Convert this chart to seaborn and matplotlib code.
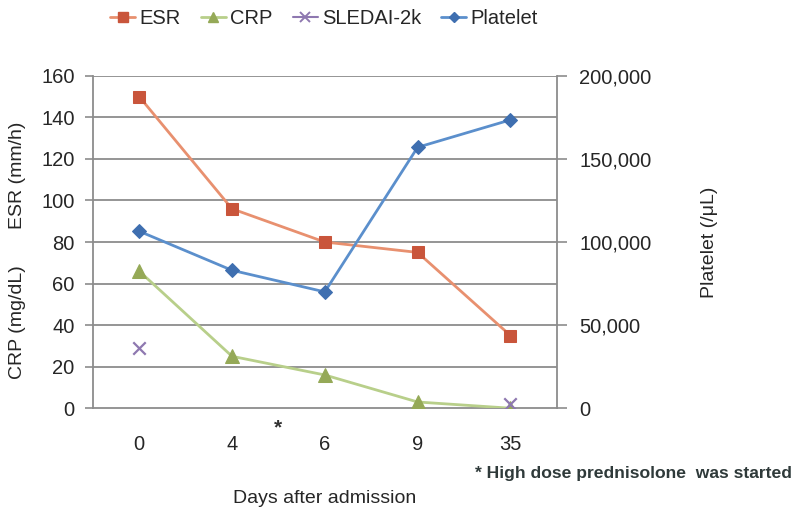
import numpy as np
import pandas as pd
import matplotlib
matplotlib.use('Agg')
import matplotlib.pyplot as plt
from matplotlib.lines import Line2D
from matplotlib.ticker import FuncFormatter, MultipleLocator
import seaborn as sns

# values
days = ['0', '4', '6', '9', '35']
esr = [150, 96, 80, 75, 35]
crp = [66, 25, 16, 3, 0]
sledai = [29, np.nan, np.nan, np.nan, 2]
platelet = [106500, 83000, 70000, 157000, 173500]

sns.set_style('white')
plt.rcParams['font.family'] = ['Liberation Sans', 'DejaVu Sans']

df = pd.DataFrame({'day': days, 'pos': np.arange(len(days)),
                   'ESR': esr, 'CRP': crp, 'SLEDAI-2k': sledai, 'Platelet': platelet})

fig = plt.figure(figsize=(8, 5.09), dpi=100)
ax = fig.add_axes([0.116, 0.198, 0.58, 0.653])
ax2 = ax.twinx()

grid_col = '#8c8c8c'
for y in range(20, 161, 20):
    ax.axhline(y, color=grid_col, lw=1.3, zorder=0)

esr_line, esr_mk = '#e8906f', '#c9553b'
crp_line, crp_mk = '#b8cf8a', '#95a957'
sle_col = '#8e78b0'
plt_line, plt_mk = '#5b8fcc', '#3f6fb0'

sns.lineplot(data=df, x='pos', y='ESR', ax=ax, color=esr_line, lw=2, marker='s',
             markersize=9, markerfacecolor=esr_mk, markeredgecolor=esr_mk, zorder=3)
sns.lineplot(data=df, x='pos', y='CRP', ax=ax, color=crp_line, lw=2, marker='^',
             markersize=10, markerfacecolor=crp_mk, markeredgecolor=crp_mk, zorder=3)
sns.scatterplot(data=df, x='pos', y='SLEDAI-2k', ax=ax, color=sle_col, marker='x',
                s=80, linewidth=1.6, zorder=3)
sns.lineplot(data=df, x='pos', y='Platelet', ax=ax2, color=plt_line, lw=2, marker='D',
             markersize=7, markerfacecolor=plt_mk, markeredgecolor=plt_mk, zorder=3)

ax.set_xlim(-0.5, len(days) - 0.5)
ax.set_ylim(0, 160)
ax2.set_ylim(0, 200000)

fs = 14.5
ax.set_xticks(df['pos'])
ax.set_xticklabels(days, fontsize=fs)
ax.set_xticks(np.arange(len(days) + 1) - 0.5, minor=True)
ax.tick_params(axis='x', which='major', length=0, pad=19)
ax.tick_params(axis='x', which='minor', length=6, width=1.2, color=grid_col, direction='out')
ax.yaxis.set_major_locator(MultipleLocator(20))
ax.tick_params(axis='y', labelsize=fs, length=6, width=1.2, color=grid_col, left=True, pad=7)

ax2.yaxis.set_major_locator(MultipleLocator(50000))
ax2.yaxis.set_major_formatter(FuncFormatter(lambda v, p: f'{int(v):,}'))
ax2.tick_params(axis='y', labelsize=fs, length=7, width=1.2, color=grid_col, right=True, pad=9)

for a in (ax, ax2):
    for s in a.spines.values():
        s.set_visible(False)
ax.spines['left'].set_visible(True)
ax.spines['bottom'].set_visible(True)
ax2.spines['right'].set_visible(True)
for s in (ax.spines['left'], ax.spines['bottom'], ax2.spines['right']):
    s.set_color(grid_col)
    s.set_linewidth(1.3)

ax.set_xlabel('Days after admission', fontsize=14, labelpad=26)
ax.set_ylabel('')
ax2.set_ylabel('Platelet (/\u03bcL)', fontsize=14, labelpad=36)
fig.text(0.022, 0.655, 'ESR (mm/h)', rotation=90, ha='center', va='center', fontsize=14)
fig.text(0.022, 0.367, 'CRP (mg/dL)', rotation=90, ha='center', va='center', fontsize=14)

# asterisk at the start of high-dose prednisolone (between day 4 and 6)
ax.text(1.5, -0.06, '*', transform=ax.get_xaxis_transform(), ha='center', va='center',
        fontsize=15, fontweight='bold', color='#333333')
fig.text(0.594, 0.06, '* High dose prednisolone  was started', fontsize=12.6,
         fontweight='bold', color='#2f3a3a', family=['Liberation Sans Narrow', 'Liberation Sans'])

handles = [
    Line2D([], [], color=esr_line, lw=2, marker='s', markersize=7, markerfacecolor=esr_mk, markeredgecolor=esr_mk),
    Line2D([], [], color=crp_line, lw=2, marker='^', markersize=7, markerfacecolor=crp_mk, markeredgecolor=crp_mk),
    Line2D([], [], color=sle_col, lw=1.5, marker='x', markersize=7, markeredgewidth=1.4),
    Line2D([], [], color=plt_line, lw=2, marker='D', markersize=5, markerfacecolor=plt_mk, markeredgecolor=plt_mk),
]
fig.legend(handles, ['ESR', 'CRP', 'SLEDAI-2k', 'Platelet'], loc='center', ncol=4,
           bbox_to_anchor=(0.405, 0.963), frameon=False, fontsize=fs, handlelength=1.25,
           handletextpad=0.2, columnspacing=1.0)

plt.savefig('out.png', dpi=100)
